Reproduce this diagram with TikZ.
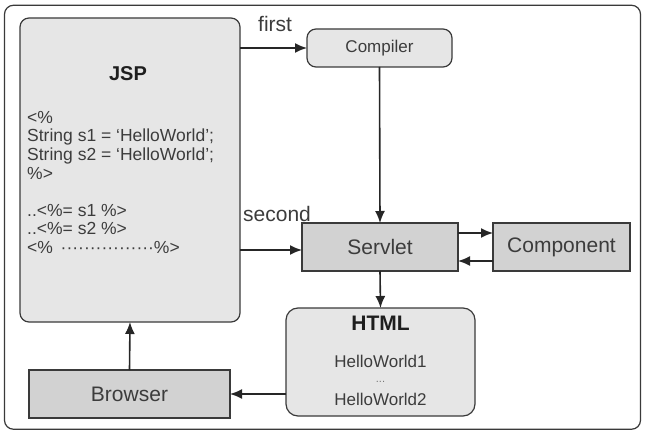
\documentclass[tikz,border=0pt]{standalone}
\usepackage{fontspec}
\setmainfont{Liberation Sans}
\usetikzlibrary{arrows.meta}
\definecolor{edge}{HTML}{3A3A3A}
\definecolor{lightfill}{HTML}{E6E6E6}
\definecolor{darkfill}{HTML}{D2D2D2}
\definecolor{txt}{HTML}{3C3C3C}
\definecolor{title}{HTML}{1E1E1E}
\begin{document}
\begin{tikzpicture}[x=1pt,y=-1pt,
  box/.style={draw=edge,line width=1.2pt,inner sep=0pt,outer sep=0pt},
  softbox/.style={box,fill=lightfill,rounded corners=9pt},
  hardbox/.style={box,fill=darkfill},
  arr/.style={draw=black!85,line width=1.6pt,-{Latex[length=12pt,width=10pt]}},
  big/.style={text=txt,font=\fontsize{21}{24}\selectfont},
  mid/.style={text=txt,font=\fontsize{17}{20}\selectfont},
  code/.style={inner sep=0pt,anchor=base west,text=txt,font=\fontsize{17.5}{20}\selectfont},
  ttl/.style={inner sep=0pt,text=title,font=\bfseries\fontsize{20}{24}\selectfont},
  free/.style={inner sep=0pt,anchor=base west,text=txt,font=\fontsize{21}{24}\selectfont},
  hw/.style={inner sep=0pt,anchor=base,text=txt,font=\fontsize{17}{20}\selectfont},
]
\useasboundingbox (0,0) rectangle (645,433);
\node[draw=edge,line width=1.2pt,rounded corners=9pt,inner sep=0pt,minimum width=636pt,minimum height=424pt] (frame) at (322.5,217.25) {};

% boxes
\node[softbox,minimum width=220pt,minimum height=304pt] (jsp) at (130,170) {};
\node[softbox,mid,minimum width=145pt,minimum height=38pt] (compiler) at (379.5,48) {Compiler};
\node[hardbox,big,minimum width=156pt,minimum height=48pt] (servlet) at (380,247) {Servlet};
\node[hardbox,big,minimum width=137pt,minimum height=48pt] (component) at (561.5,247) {Component};
\node[softbox,rounded corners=12pt,minimum width=189pt,minimum height=108pt] (html) at (380.5,362) {};
\node[hardbox,big,minimum width=201pt,minimum height=48pt] (browser) at (129.5,394) {Browser};

% JSP content
\node[ttl] (jsptitle) at (128,74) {JSP};
\node[code] (c1) at (27,123.5) {<\%};
\node[code] (c2) at (27,142) {String s1 = ‘HelloWorld’;};
\node[code] (c3) at (27,160.5) {String s2 = ‘HelloWorld’;};
\node[code] (c4) at (27,179) {\%>};
\node[code] (c5) at (27,216) {..<\%= s1 \%>};
\node[code] (c6) at (27,234.5) {..<\%= s2 \%>};
\node[code] (c7) at (27,253) {<\% \,················\%>};

% HTML content
\node[ttl,anchor=base,font=\bfseries\fontsize{21}{24}\selectfont] (htmltitle) at (380.5,330) {HTML};
\node[hw] (hw1) at (380.5,367) {HelloWorld1};
\node[hw,font=\fontsize{11}{12}\selectfont,text=txt!70] (hwdots) at (380.5,382) {...};
\node[hw] (hw2) at (380.5,405) {HelloWorld2};

% labels
\node[free] (first) at (258,32) {first};
\node[free] (second) at (243,221) {second};

% connectors
\draw[arr] (jsp.east |- compiler.west) -- (compiler.west);
\draw[arr] (compiler.south) -- (servlet.north);
\draw[arr] ([yshift=-3pt]servlet.west -| jsp.east) -- ([yshift=-3pt]servlet.west);
\draw[arr] ([yshift=-10pt]servlet.north east) -- ([yshift=-10pt]component.north west);
\draw[arr] ([yshift=10pt]component.south west) -- ([yshift=10pt]servlet.south east);
\draw[arr] (servlet.south) -- (html.north);
\draw[arr] (html.west |- browser.east) -- (browser.east);
\draw[arr] (browser.north) -- (jsp.south);
\end{tikzpicture}
\end{document}
